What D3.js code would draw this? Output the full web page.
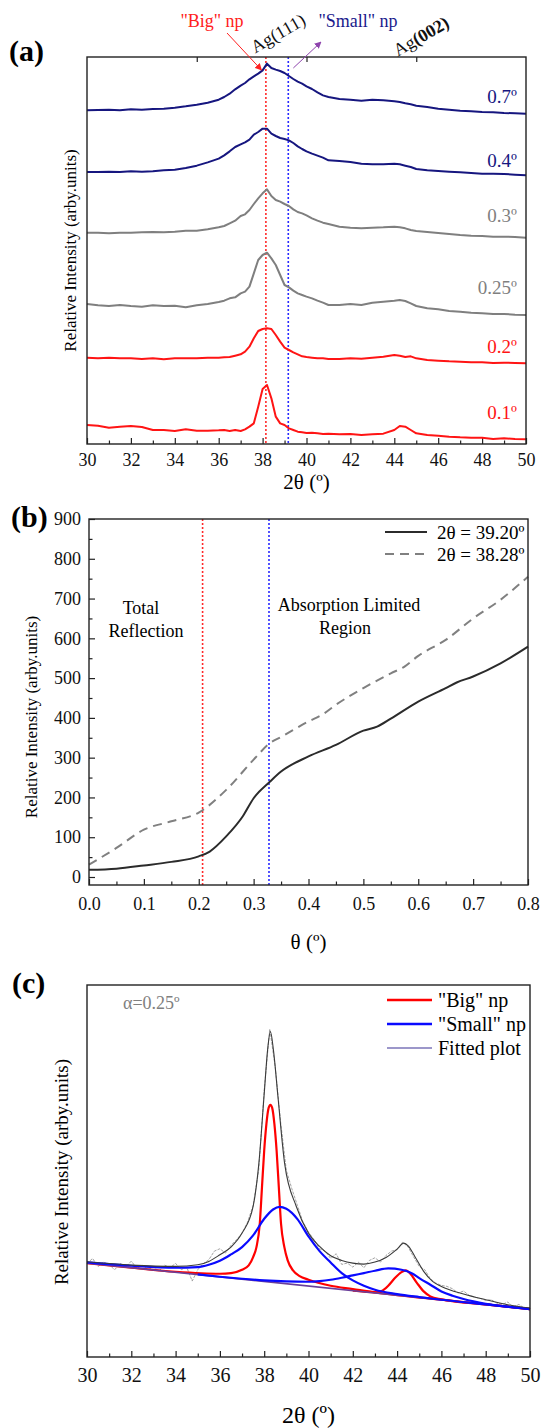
<!DOCTYPE html>
<html>
<head>
<meta charset="utf-8">
<title>GIXRD - Ag nanoparticles</title>
<style>
  body { margin: 0; background: #fff; }
  svg { display: block; background: #fff; }
  svg text { font-family: "Liberation Serif", "Times New Roman", "DejaVu Serif", serif; }
  .frame { fill: none; stroke: #222; stroke-width: 1.4; }
</style>
</head>
<body>
<svg width="541" height="1428"></svg>

<script src="https://d3js.org/d3.v7.min.js"></script>
<script>
    // ---------- data ----------
    // panel (a): 2theta grid shared by all six scans
    var tt = [30, 30.5, 31, 31.5, 32, 32.5, 33, 33.5, 34, 34.5, 35, 35.5, 36,
              36.25, 36.5, 36.75, 37,
              37.2, 37.4, 37.6, 37.8, 38, 38.2, 38.4, 38.6, 38.8, 39, 39.2, 39.4, 39.6, 39.8, 40,
              40.25, 40.5, 40.75, 41,
              41.5, 42, 42.5, 43, 43.5, 44,
              44.25, 44.5, 44.75, 45,
              45.5, 46, 46.5, 47, 47.5, 48, 48.5, 49, 49.5, 50];

    // stacked intensities (arb. units, offsets included)
    var a07 = [1001, 1002, 1003, 1001, 1004, 1003, 1005, 1006, 1009, 1013, 1018, 1024, 1033,
               1041, 1051, 1064, 1075,
               1083, 1094, 1103, 1111, 1121, 1141, 1128, 1123, 1119, 1113, 1104, 1095, 1087, 1081, 1073,
               1065, 1055, 1046, 1041,
               1035, 1033, 1030, 1033, 1031, 1028,
               1026, 1022, 1019, 1015,
               1011, 1006, 1003, 1000, 998, 996, 995, 993, 992, 991];
    var a04 = [816, 816, 817, 816, 818, 817, 818, 821, 823, 828, 835, 845, 856,
               866, 878, 891, 899,
               905, 913, 928, 936, 946, 946, 931, 924, 918, 915, 911, 903, 893, 885, 878,
               871, 865, 859, 851,
               849, 846, 841, 839, 839, 841,
               839, 835, 831, 825,
               821, 819, 817, 815, 813, 811, 811, 810, 808, 806];
    var a03 = [634, 634, 632, 634, 634, 635, 636, 635, 637, 640, 640, 644, 650,
               654, 662, 670, 684,
               689, 702, 720, 737, 752, 764, 744, 732, 727, 720, 714, 704, 696, 692, 686,
               677, 670, 664, 660,
               652, 649, 647, 649, 650, 652,
               650, 647, 642, 639,
               636, 633, 630, 627, 625, 624, 622, 622, 621, 619];
    var a025 = [420, 416, 414, 417, 414, 412, 416, 414, 415, 410, 416, 420, 426,
                430, 437, 440, 452,
                457, 472, 512, 552, 567, 574, 557, 537, 507, 477, 470, 460, 452, 447, 442,
                437, 430, 424, 417,
                417, 420, 417, 424, 427, 430,
                432, 429, 422, 414,
                407, 404, 399, 397, 394, 392, 390, 390, 388, 387];
    var a02 = [259, 257, 259, 257, 257, 255, 257, 254, 257, 257, 257, 259, 259,
               260, 261, 265, 269,
               277, 292, 317, 339, 345, 347, 345, 327, 307, 289, 282, 275, 269, 263, 261,
               259, 257, 257, 255,
               255, 257, 256, 259, 262, 267,
               265, 261, 263, 257,
               252, 250, 248, 247, 245, 245, 243, 244, 243, 242];
    var a01 = [57, 55, 49, 52, 54, 51, 42, 42, 39, 44, 40, 40, 41,
               42, 39, 42, 39,
               44, 52, 62, 112, 165, 177, 137, 82, 62, 57, 47, 42, 37, 35, 33,
               34, 32, 30, 31,
               29, 30, 27, 29, 31, 42,
               54, 52, 42, 32,
               27, 25, 22, 20, 19, 19, 15, 17, 15, 14];
    var aLabels = ["0.7º", "0.4º", "0.3º", "0.25º", "0.2º", "0.1º"];
    var bigPeak = 38.15, smallPeak = 39.17;
    var aMajor = [30, 32, 34, 36, 38, 40, 42, 44, 46, 48, 50];
    var aMinor = [31, 33, 35, 37, 39, 41, 43, 45, 47, 49];
    var aTop = [35, 40, 45];

    // panel (b): intensity vs incidence angle
    var bThetaSolid = [0, 0.05, 0.1, 0.15, 0.2, 0.22, 0.25, 0.28, 0.3, 0.33, 0.35,
                       0.4, 0.45, 0.5, 0.525, 0.55, 0.6, 0.65, 0.67, 0.7, 0.75, 0.8];
    var bSolid = [18, 21, 29, 38, 52, 64, 102, 152, 198, 240, 265,
                  303, 332, 368, 378, 398, 441, 475, 489, 504, 537, 579];
    var bThetaDash = [0, 0.05, 0.1, 0.15, 0.2, 0.25, 0.3, 0.33, 0.35, 0.4,
                      0.425, 0.45, 0.5, 0.55, 0.575, 0.6, 0.65, 0.7, 0.75, 0.8];
    var bDash = [31, 73, 119, 140, 162, 219, 295, 337, 352, 391,
                 408, 433, 475, 512, 529, 556, 596, 650, 697, 755];
    var bLegend = ["2θ = 39.20º", "2θ = 38.28º"];
    var bCritical = 0.207, bAbsorb = 0.328;
    var bMajorY = [0, 100, 200, 300, 400, 500, 600, 700, 800, 900];
    var bMinorY = [50, 150, 250, 350, 450, 550, 650, 750, 850];
    var bMajorX = [0, 0.1, 0.2, 0.3, 0.4, 0.5, 0.6, 0.7, 0.8];
    var bMinorX = [0.05, 0.15, 0.25, 0.35, 0.45, 0.55, 0.65, 0.75];

    // panel (c): alpha = 0.25 scan and its fit
    var cDataT = [30, 30.25, 30.5, 30.75, 31, 31.25, 31.5, 31.75,
                  32, 32.25, 32.5, 32.75, 33, 33.25, 33.5, 33.75,
                  34, 34.25, 34.5, 34.75, 35, 35.25, 35.5, 35.75,
                  36, 36.25, 36.5, 36.75, 37, 37.25, 37.5, 37.75,
                  38, 38.25, 38.5, 38.75, 39, 39.25, 39.5, 39.75,
                  40, 40.25, 40.5, 40.75, 41, 41.25, 41.5, 41.75,
                  42, 42.25, 42.5, 42.75, 43, 43.25, 43.5, 43.75,
                  44, 44.25, 44.5, 44.75, 45, 45.25, 45.5, 45.75,
                  46, 46.25, 46.5, 46.75, 47, 47.25, 47.5, 47.75,
                  48, 48.25, 48.5, 48.75, 49, 49.25, 49.5, 49.75, 50];
    var cData = [280, 296, 272, 285, 277, 262, 281, 270,
                 288, 266, 275, 262, 270, 258, 276, 268,
                 281, 262, 270, 228, 262, 280, 292, 318,
                 325, 312, 335, 352, 372, 405, 455, 560,
                 800, 985, 870, 700, 560, 505, 455, 405,
                 375, 352, 325, 318, 296, 310, 278, 282,
                 270, 285, 268, 290, 298, 285, 305, 318,
                 322, 345, 330, 300, 272, 262, 235, 222,
                 215, 212, 205, 192, 198, 185, 180, 176,
                 170, 172, 162, 158, 165, 150, 158, 146, 148];
    var cFitT = [30, 32, 34, 35, 35.5, 36, 36.5, 37, 37.5, 37.76,
                 38, 38.15, 38.28, 38.42, 38.62, 38.92, 39.45, 40, 40.5, 41,
                 41.5, 42, 42.5, 43, 43.5, 44, 44.3, 44.5, 44.8, 45.2,
                 45.6, 46, 47, 48, 49, 50];
    var cFit = [286, 276, 272, 277, 287, 307, 330, 372, 452, 582,
                790, 920, 977, 920, 782, 582, 452, 372, 332, 304,
                290, 282, 279, 285, 299, 324, 342, 334, 302, 257,
                227, 212, 189, 172, 157, 147];
    var cBig1T = [30, 32, 34, 36, 36.5, 37, 37.3, 37.5, 37.65, 37.8,
                  37.9, 38, 38.1, 38.2, 38.28, 38.36, 38.46, 38.56, 38.66, 38.76,
                  38.91, 39.06, 39.3, 39.6, 40, 41, 42, 43, 44, 46, 48, 50];
    var cBig1 = [282, 268, 256, 250, 252, 262, 275, 300, 330, 400,
                 510, 620, 700, 748, 757, 748, 700, 620, 510, 400,
                 330, 290, 260, 243, 232, 214, 204, 194, 186, 172, 158, 144];
    var cBig2T = [42, 42.5, 43, 43.3, 43.6, 43.9, 44.2, 44.4, 44.6, 44.9, 45.2, 45.5, 46, 48, 50];
    var cBig2 = [199, 196, 194, 198, 214, 237, 255, 260, 250, 222, 197, 182, 173, 158, 144];
    var cSmall1T = [30, 32, 34, 35, 35.5, 36, 36.5, 37, 37.5, 38,
                    38.4, 38.7, 39, 39.5, 40, 40.5, 41, 41.5, 42, 42.5,
                    43, 44, 45, 46, 48, 50];
    var cSmall1 = [284, 274, 268, 270, 277, 289, 308, 330, 365, 415,
                   443, 451, 445, 414, 362, 318, 284, 252, 230, 214,
                   202, 189, 180, 172, 158, 144];
    var cSmall2T = [35, 36, 37, 38, 39, 40, 40.5, 41, 41.5, 42,
                    42.5, 43, 43.6, 44.2, 44.7, 45, 45.5, 46, 46.5, 47,
                    48, 49, 50];
    var cSmall2 = [248, 241, 235, 230, 227, 226, 228, 232, 238, 245,
                   252, 259, 266, 262, 250, 237, 217, 197, 184, 174,
                   160, 151, 144];
    var cBackT = [30, 50];
    var cBack = [282, 144];
    var cLegend = ["\"Big\" np", "\"Small\" np", "Fitted plot"];

    // ---------- setup ----------
    var svg = d3.select("svg");
    var serif = '"Liberation Serif", "Times New Roman", serif';
    svg.attr("font-family", serif);

    var navy = "#16167f", grey = "#7f7f7f", red = "#ff1414";

    function styleAxis(g, size) {
        g.attr("font-family", serif).attr("font-size", size);
        g.select(".domain").remove();
        g.selectAll(".tick line").attr("stroke", "#222").attr("stroke-width", 1.2);
        g.selectAll(".tick text").attr("fill", "#111");
    }

    var defs = svg.append("defs");
    [["arrowRed", "#ff2020"], ["arrowPurple", "#8e44ad"]].forEach(function(m) {
        defs.append("marker")
            .attr("id", m[0])
            .attr("viewBox", "0 0 10 10")
            .attr("refX", 9).attr("refY", 5)
            .attr("markerWidth", 7).attr("markerHeight", 7)
            .attr("orient", "auto")
          .append("path")
            .attr("d", "M0,0 L10,5 L0,10 z")
            .attr("fill", m[1]);
    });

    // ================= panel (a) =================
    var xA = d3.scaleLinear().domain([30, 50]).range([87, 526]);
    var yA = d3.scaleLinear().domain([0, 1161]).range([444, 57]);
    var gA = svg.append("g");

    gA.append("g").attr("transform", "translate(0," + yA(0) + ")")
        .call(d3.axisBottom(xA).tickValues(aMajor).tickSize(-6).tickPadding(9))
        .call(styleAxis, 18);
    gA.append("g").attr("transform", "translate(0," + yA(0) + ")")
        .call(d3.axisBottom(xA).tickValues(aMinor).tickSize(-3.5).tickFormat(""))
        .call(styleAxis, 18);
    gA.append("g").attr("transform", "translate(0," + yA(1161) + ")")
        .call(d3.axisTop(xA).tickValues(aTop).tickSize(-5).tickFormat(""))
        .call(styleAxis, 18);

    // reference lines
    [[bigPeak, "#ff2a2a"], [smallPeak, "#2a2aff"]].forEach(function(r) {
        gA.append("line")
            .attr("x1", xA(r[0])).attr("x2", xA(r[0]))
            .attr("y1", yA(1161)).attr("y2", yA(0))
            .attr("stroke", r[1]).attr("stroke-width", 1.6)
            .attr("stroke-dasharray", "2,2");
    });

    var aSeries = [a07, a04, a03, a025, a02, a01];
    var aColors = [navy, navy, grey, grey, red, red];
    var labelDy = [17, 15, 22, 28, 17, 27];
    var lineA = d3.line().x(function(d, i) { return xA(tt[i]); }).y(function(d) { return yA(d); });

    aSeries.forEach(function(s, k) {
        gA.append("path")
            .attr("d", lineA(s))
            .attr("fill", "none")
            .attr("stroke", aColors[k])
            .attr("stroke-width", 2)
            .attr("stroke-linejoin", "round");
        gA.append("text")
            .attr("x", 517)
            .attr("y", yA(s[s.length - 1]) - labelDy[k])
            .attr("dy", "0.35em")
            .attr("text-anchor", "end")
            .attr("font-size", 19)
            .attr("fill", aColors[k])
            .text(aLabels[k]);
    });

    gA.append("rect").attr("class", "frame")
        .attr("x", xA(30)).attr("y", yA(1161))
        .attr("width", xA(50) - xA(30)).attr("height", yA(0) - yA(1161));

    // annotations
    gA.append("text").attr("x", 212).attr("y", 27).attr("text-anchor", "middle")
        .attr("font-size", 18).attr("fill", "#ff2020").text("\"Big\" np");
    gA.append("text").attr("x", 358).attr("y", 27).attr("text-anchor", "middle")
        .attr("font-size", 18).attr("fill", "#1a1a8c").text("\"Small\" np");
    gA.append("line")
        .attr("x1", 227).attr("y1", 33)
        .attr("x2", xA(37.95)).attr("y2", yA(1122))
        .attr("stroke", "#ff2020").attr("stroke-width", 1)
        .attr("marker-end", "url(#arrowRed)");
    gA.append("line")
        .attr("x1", xA(39.4)).attr("y1", yA(1128))
        .attr("x2", 321).attr("y2", 42)
        .attr("stroke", "#8e44ad").attr("stroke-width", 1)
        .attr("marker-end", "url(#arrowPurple)");
    gA.append("text")
        .attr("transform", "translate(278,33) rotate(-30)")
        .attr("text-anchor", "middle").attr("dy", "0.35em")
        .attr("font-size", 18).attr("fill", "#111").text("Ag(111)");
    var ag2 = gA.append("text")
        .attr("transform", "translate(421,36) rotate(-30)")
        .attr("text-anchor", "middle").attr("dy", "0.35em")
        .attr("font-size", 18).attr("fill", "#111");
    ag2.append("tspan").text("Ag");
    ag2.append("tspan").attr("font-weight", "bold").text("(002)");

    gA.append("text").attr("x", 9).attr("y", 61)
        .attr("font-size", 30).attr("font-weight", "bold").text("(a)");
    gA.append("text").attr("x", (xA(30) + xA(50)) / 2).attr("y", 482).attr("dy", "0.35em")
        .attr("text-anchor", "middle").attr("font-size", 21).text("2θ (º)");
    gA.append("text")
        .attr("transform", "translate(70," + (yA(0) + yA(1161)) / 2 + ") rotate(-90)")
        .attr("text-anchor", "middle").attr("dy", "0.35em")
        .attr("font-size", 17).text("Relative Intensity (arby.units)");

    // ================= panel (b) =================
    var xB = d3.scaleLinear().domain([0, 0.8]).range([89, 528]);
    var yB = d3.scaleLinear().domain([0, 900]).range([877, 519]);
    var bBottom = 885;
    var gB = svg.append("g");

    gB.append("g").attr("transform", "translate(0," + bBottom + ")")
        .call(d3.axisBottom(xB).tickValues(bMajorX).tickSize(-6).tickPadding(12).tickFormat(d3.format(".1f")))
        .call(styleAxis, 18);
    gB.append("g").attr("transform", "translate(0," + bBottom + ")")
        .call(d3.axisBottom(xB).tickValues(bMinorX).tickSize(-3.5).tickFormat(""))
        .call(styleAxis, 18);
    gB.append("g").attr("transform", "translate(" + xB(0) + ",0)")
        .call(d3.axisLeft(yB).tickValues(bMajorY).tickSize(-6).tickPadding(8))
        .call(styleAxis, 18);
    gB.append("g").attr("transform", "translate(" + xB(0) + ",0)")
        .call(d3.axisLeft(yB).tickValues(bMinorY).tickSize(-3.5).tickFormat(""))
        .call(styleAxis, 18);

    [[bCritical, "#ff2a2a"], [bAbsorb, "#2a2aff"]].forEach(function(r) {
        gB.append("line")
            .attr("x1", xB(r[0])).attr("x2", xB(r[0]))
            .attr("y1", yB(900)).attr("y2", bBottom)
            .attr("stroke", r[1]).attr("stroke-width", 1.6)
            .attr("stroke-dasharray", "2,2");
    });

    var lineSolid = d3.line().curve(d3.curveMonotoneX)
        .x(function(d, i) { return xB(bThetaSolid[i]); }).y(function(d) { return yB(d); });
    var lineDash = d3.line().curve(d3.curveMonotoneX)
        .x(function(d, i) { return xB(bThetaDash[i]); }).y(function(d) { return yB(d); });

    gB.append("path").attr("d", lineDash(bDash))
        .attr("fill", "none").attr("stroke", "#808080").attr("stroke-width", 2)
        .attr("stroke-dasharray", "9,6");
    gB.append("path").attr("d", lineSolid(bSolid))
        .attr("fill", "none").attr("stroke", "#2b2b2b").attr("stroke-width", 2);

    gB.append("rect").attr("class", "frame")
        .attr("x", xB(0)).attr("y", yB(900))
        .attr("width", xB(0.8) - xB(0)).attr("height", bBottom - yB(900));

    // legend
    [["#2b2b2b", null], ["#808080", "9,6"]].forEach(function(st, i) {
        var y = 532 + i * 22;
        gB.append("line").attr("x1", 385).attr("x2", 427).attr("y1", y).attr("y2", y)
            .attr("stroke", st[0]).attr("stroke-width", 2)
            .attr("stroke-dasharray", st[1]);
        gB.append("text").attr("x", 437).attr("y", y).attr("dy", "0.35em")
            .attr("font-size", 19).text(bLegend[i]);
    });

    gB.append("text").attr("x", 141).attr("y", 608).attr("dy", "0.35em")
        .attr("text-anchor", "middle").attr("font-size", 18).text("Total");
    gB.append("text").attr("x", 146).attr("y", 631).attr("dy", "0.35em")
        .attr("text-anchor", "middle").attr("font-size", 18).text("Reflection");
    gB.append("text").attr("x", 349).attr("y", 605).attr("dy", "0.35em")
        .attr("text-anchor", "middle").attr("font-size", 18).text("Absorption Limited");
    gB.append("text").attr("x", 345).attr("y", 628).attr("dy", "0.35em")
        .attr("text-anchor", "middle").attr("font-size", 18).text("Region");

    gB.append("text").attr("x", 11).attr("y", 527)
        .attr("font-size", 30).attr("font-weight", "bold").text("(b)");
    gB.append("text").attr("x", xB(0.4)).attr("y", 942).attr("dy", "0.35em")
        .attr("text-anchor", "middle").attr("font-size", 21).text("θ (º)");
    gB.append("text")
        .attr("transform", "translate(31,717) rotate(-90)")
        .attr("text-anchor", "middle").attr("dy", "0.35em")
        .attr("font-size", 17).text("Relative Intensity (arby.units)");

    // ================= panel (c) =================
    var xC = d3.scaleLinear().domain([30, 50]).range([87, 530]);
    var yC = d3.scaleLinear().domain([0, 1117]).range([1357, 985]);
    var gC = svg.append("g");

    gC.append("g").attr("transform", "translate(0," + yC(0) + ")")
        .call(d3.axisBottom(xC).tickValues(aMajor).tickSize(-6).tickPadding(11))
        .call(styleAxis, 20);
    gC.append("g").attr("transform", "translate(0," + yC(0) + ")")
        .call(d3.axisBottom(xC).tickValues(aMinor).tickSize(-3.5).tickFormat(""))
        .call(styleAxis, 20);

    function lineC(ts) {
        return d3.line().curve(d3.curveMonotoneX)
            .x(function(d, i) { return xC(ts[i]); })
            .y(function(d) { return yC(d); });
    }

    gC.append("path").attr("d", d3.line()
            .x(function(d, i) { return xC(cDataT[i]); })
            .y(function(d) { return yC(d); })(cData))
        .attr("fill", "none").attr("stroke", "#9a9a9a").attr("stroke-width", 0.9)
        .attr("stroke-dasharray", "3,1.2");
    gC.append("path").attr("d", lineC(cBig1T)(cBig1))
        .attr("fill", "none").attr("stroke", "#ff0000").attr("stroke-width", 2.2);
    gC.append("path").attr("d", lineC(cBig2T)(cBig2))
        .attr("fill", "none").attr("stroke", "#ff0000").attr("stroke-width", 2.2);
    gC.append("path").attr("d", lineC(cBackT)(cBack))
        .attr("fill", "none").attr("stroke", "#6a3f9a").attr("stroke-width", 1.6);
    gC.append("path").attr("d", lineC(cSmall1T)(cSmall1))
        .attr("fill", "none").attr("stroke", "#0a0aff").attr("stroke-width", 2.2);
    gC.append("path").attr("d", lineC(cSmall2T)(cSmall2))
        .attr("fill", "none").attr("stroke", "#0a0aff").attr("stroke-width", 2.2);
    gC.append("path").attr("d", lineC(cFitT)(cFit))
        .attr("fill", "none").attr("stroke", "#3a3a3a").attr("stroke-width", 1.1);

    gC.append("rect").attr("class", "frame")
        .attr("x", xC(30)).attr("y", yC(1117))
        .attr("width", xC(50) - xC(30)).attr("height", yC(0) - yC(1117));

    // legend
    [["#ff0000", 2.5], ["#0a0aff", 2.5], ["#7b74b8", 1.5]].forEach(function(st, i) {
        var y = 1000 + i * 24;
        gC.append("line").attr("x1", 387).attr("x2", 432).attr("y1", y).attr("y2", y)
            .attr("stroke", st[0]).attr("stroke-width", st[1]);
        gC.append("text").attr("x", 438).attr("y", y).attr("dy", "0.35em")
            .attr("font-size", 20).text(cLegend[i]);
    });

    gC.append("text").attr("x", 123).attr("y", 1003).attr("dy", "0.35em")
        .attr("font-size", 18).attr("fill", "#808080").text("α=0.25º");

    gC.append("text").attr("x", 12).attr("y", 993)
        .attr("font-size", 30).attr("font-weight", "bold").text("(c)");
    gC.append("text").attr("x", (xC(30) + xC(50)) / 2).attr("y", 1415).attr("dy", "0.35em")
        .attr("text-anchor", "middle").attr("font-size", 24).text("2θ (º)");
    gC.append("text")
        .attr("transform", "translate(61,1172) rotate(-90)")
        .attr("text-anchor", "middle").attr("dy", "0.35em")
        .attr("font-size", 19).text("Relative Intensity (arby.units)");
</script>

</body>
</html>
